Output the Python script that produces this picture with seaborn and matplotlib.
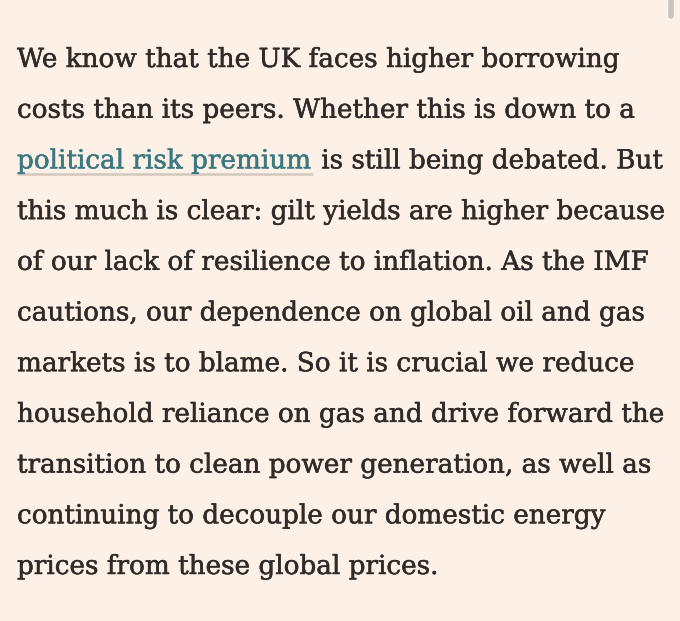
import matplotlib
matplotlib.use("Agg")
import matplotlib.pyplot as plt
import matplotlib.patheffects as pe
import seaborn as sns

# paragraph text, one entry per rendered line
lines = [
    "We know that the UK faces higher borrowing",
    "costs than its peers. Whether this is down to a",
    " is still being debated. But",
    "this much is clear: gilt yields are higher because",
    "of our lack of resilience to inflation. As the IMF",
    "cautions, our dependence on global oil and gas",
    "markets is to blame. So it is crucial we reduce",
    "household reliance on gas and drive forward the",
    "transition to clean power generation, as well as",
    "continuing to decouple our domestic energy",
    "prices from these global prices.",
]
link_text = "political risk premium"
link_line = 2

BG = "#FDF0E7"
INK = "#2F2B29"
LINK = "#3B7880"

sns.set_theme(style="white")
plt.rcParams["font.family"] = ["DejaVu Serif"]

fig = plt.figure(figsize=(6.8, 6.21), dpi=100, facecolor=BG)
ax = fig.add_axes([0, 0, 1, 1])
ax.set_facecolor(BG)
ax.set_xlim(0, 680)
ax.set_ylim(621, 0)
ax.axis("off")

x0 = 17
y_first = 67
step = 50.7

# fit font size so the first line spans roughly as wide as in the reference
fig.canvas.draw()
renderer = fig.canvas.get_renderer()
probe = ax.text(0, 0, lines[0], fontsize=20)
w = probe.get_window_extent(renderer).width
probe.remove()
fs = 20 * 602 / w


def thick(c):
    # slightly heavier strokes, closer to the screen rendering of the original
    return [pe.withStroke(linewidth=0.35, foreground=c)]


for i, line in enumerate(lines):
    y = y_first + i * step
    if i == link_line:
        t = ax.text(x0, y, link_text, fontsize=fs, color=LINK, va="baseline",
                    path_effects=thick(LINK))
        bb = t.get_window_extent(renderer)
        lw = bb.width + 1
        ax.plot([x0, x0 + lw], [y + 5.5, y + 5.5], color="#D2C8BF", lw=1.8,
                solid_capstyle="butt", zorder=0)
        # continuing text right after the link
        ax.text(x0 + lw, y, line, fontsize=fs, color=INK, va="baseline",
                path_effects=thick(INK))
    else:
        ax.text(x0, y, line, fontsize=fs, color=INK, va="baseline",
                path_effects=thick(INK))

# scrollbar thumb in the corner
ax.plot([670.5, 670.5], [1, 16], color="#C9C3BD", lw=4, solid_capstyle="round")

fig.savefig("out.png", dpi=100, facecolor=BG)
